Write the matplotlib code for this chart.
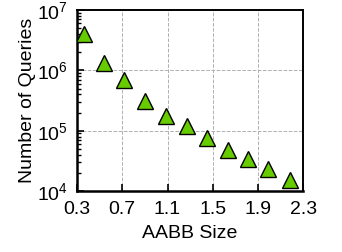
import numpy as np
import matplotlib
matplotlib.use('Agg')
import matplotlib.pyplot as plt
from matplotlib.ticker import FixedLocator, FuncFormatter, LogLocator, NullFormatter

plt.rcParams['font.family'] = ['Liberation Sans', 'DejaVu Sans']
plt.rcParams['mathtext.fontset'] = 'custom'
plt.rcParams['mathtext.rm'] = 'Liberation Sans'

# data
aabb_size = [0.36, 0.54, 0.72, 0.90, 1.09, 1.27, 1.45, 1.63, 1.81, 1.99, 2.18]
num_queries = [4.06e6, 1.33e6, 6.9e5, 3.1e5, 1.72e5, 1.19e5, 7.7e4, 4.8e4, 3.4e4, 2.3e4, 1.5e4]
x_ticks = [0.3, 0.7, 1.1, 1.5, 1.9, 2.3]

fig = plt.figure(figsize=(3.42, 2.52), dpi=100)
ax = fig.add_axes([0.225, 0.242, 0.662, 0.718])

ax.plot(aabb_size, num_queries, linestyle='none', marker='^', ms=12,
        mfc='#66cc00', mec='black', mew=1.0, zorder=3)

ax.set_yscale('log')
ax.set_xlim(0.3, 2.3)
ax.set_ylim(1e4, 1e7)

ax.xaxis.set_major_locator(FixedLocator(x_ticks))
ax.xaxis.set_major_formatter(FuncFormatter(lambda v, p: f'{v:.1f}'))
ax.yaxis.set_major_locator(LogLocator(base=10, numticks=10))
ax.yaxis.set_minor_locator(LogLocator(base=10, subs=np.arange(2, 10), numticks=10))
ax.yaxis.set_minor_formatter(NullFormatter())
ax.yaxis.set_major_formatter(FuncFormatter(lambda v, p: r'$\mathregular{10^{%d}}$' % int(round(np.log10(v)))))

ax.tick_params(axis='both', which='major', direction='in', length=5, width=1.2,
               labelsize=14, top=False, right=False)
ax.tick_params(axis='x', which='major', pad=7.5)
ax.tick_params(axis='y', which='major', pad=6.5)
ax.tick_params(axis='y', which='minor', direction='in', length=3, width=1.0, right=False)

ax.grid(True, which='major', color='#b0b0b0', linestyle='--', linewidth=0.7)

for side in ['left', 'bottom']:
    ax.spines[side].set_linewidth(1.8)
for side in ['top', 'right']:
    ax.spines[side].set_linewidth(1.4)

ax.set_xlabel('AABB Size', fontsize=14, labelpad=5)
ax.set_ylabel('Number of Queries', fontsize=14, labelpad=1)

fig.savefig('out.png', dpi=100)
